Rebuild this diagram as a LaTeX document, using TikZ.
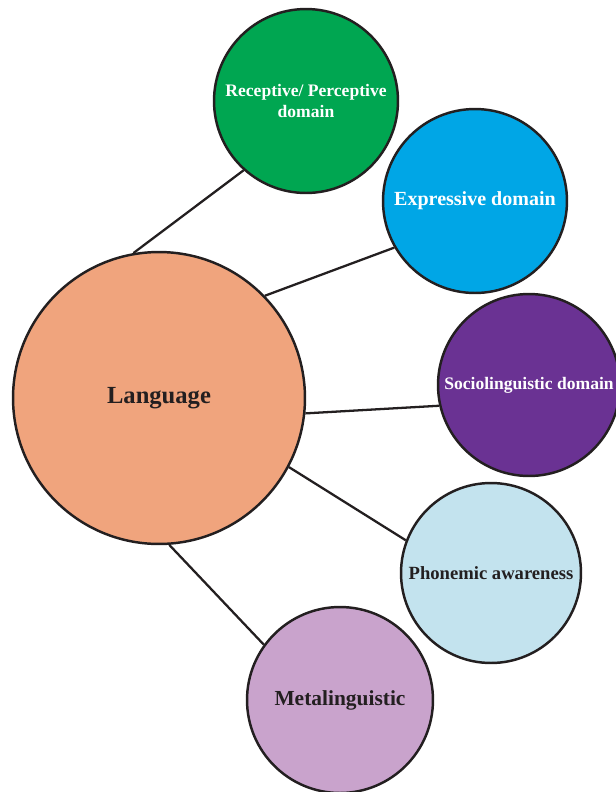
\documentclass[tikz,border=0pt]{standalone}
\usepackage{fontspec}
\setmainfont{Liberation Serif}
\definecolor{langc}{HTML}{F0A47D}
\definecolor{recc}{HTML}{00A651}
\definecolor{expc}{HTML}{00A6E6}
\definecolor{socc}{HTML}{6A3293}
\definecolor{phonc}{HTML}{C3E3EE}
\definecolor{metac}{HTML}{C9A3CC}
\definecolor{inkc}{HTML}{231F20}
\begin{document}
\begin{tikzpicture}[x=0.02cm, y=-0.02cm, every node/.style={circle, draw=inkc, line width=1.4pt, inner sep=0pt, align=center, font=\bfseries}, link/.style={draw=inkc, line width=1.3pt}]
\useasboundingbox (0,0) rectangle (616,792);
\node (lang) [fill=langc, minimum size=5.84cm, font=\bfseries\fontsize{14}{16}\selectfont, text=inkc] at (159,398) {Language};
\node (rec) [fill=recc, minimum size=3.68cm, font=\bfseries\fontsize{10}{12}\selectfont, text=white] at (306,101) {Receptive/ Perceptive\\domain};
\node (exp) [fill=expc, minimum size=3.68cm, font=\bfseries\fontsize{11.4}{13}\selectfont, text=white] at (475,201) {Expressive domain};
\node (soc) [fill=socc, minimum size=3.64cm, font=\bfseries\fontsize{10}{12}\selectfont, text=white] at (529,385) {Sociolinguistic domain};
\node (phon) [fill=phonc, minimum size=3.6cm, font=\bfseries\fontsize{10.6}{13}\selectfont, text=inkc] at (491,573) {Phonemic awareness};
\node (meta) [fill=metac, minimum size=3.72cm, font=\bfseries\fontsize{12.2}{14}\selectfont, text=inkc] at (340,700) {Metalinguistic};
\draw[link] (lang.100) -- (rec.228);
\draw[link] (lang.44) -- (exp.210);
\draw[link] (lang.-6) -- (soc.193);
\draw[link] (lang.-28) -- (phon.159);
\draw[link] (lang.-86) -- (meta.144);
\end{tikzpicture}
\end{document}
